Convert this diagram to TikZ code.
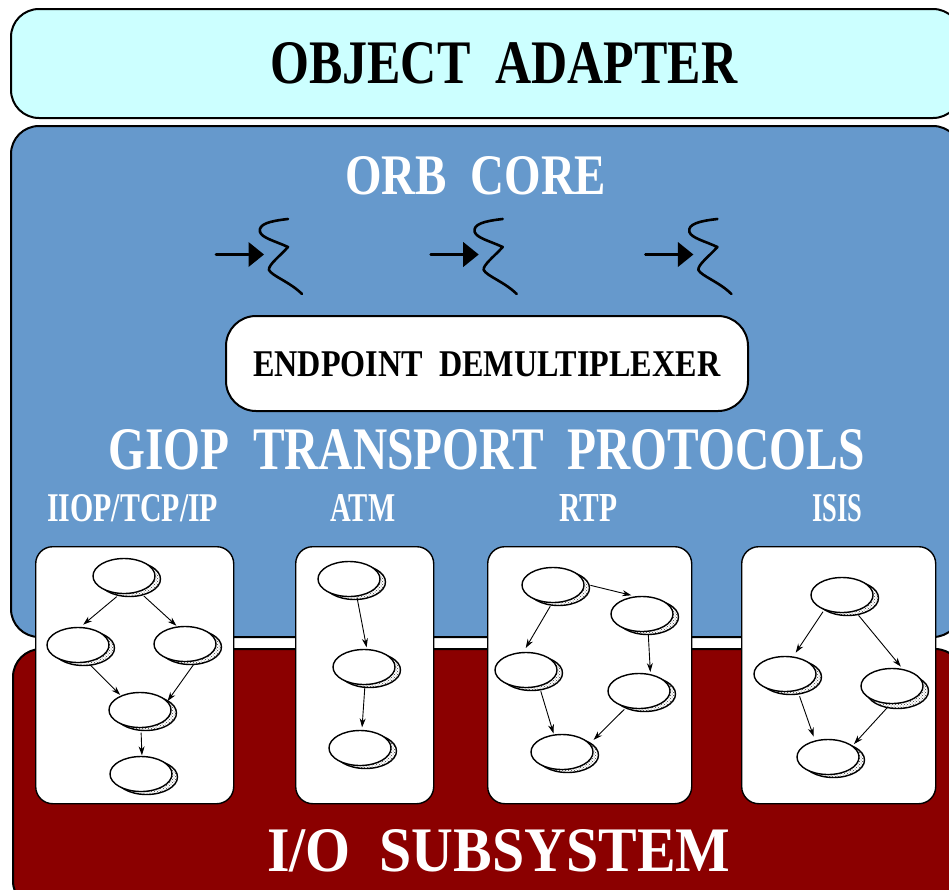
\documentclass[tikz,border=0pt]{standalone}
\usepackage{fontspec}
\setmainfont{Liberation Serif}
\usetikzlibrary{shapes.geometric,arrows.meta,patterns}
\definecolor{adaptercol}{HTML}{CCFFFF}
\definecolor{orbcol}{HTML}{6699CC}
\definecolor{iocol}{HTML}{8B0000}
\tikzset{
  layerbox/.style={draw=black,line width=2pt,rounded corners=28pt},
  panelbox/.style={draw=black,fill=white,line width=1.4pt,rounded corners=17pt},
  gfront/.style={ellipse,draw=black,fill=white,line width=1.4pt,minimum width=62pt,minimum height=35pt,inner sep=0pt},
  gback/.style={ellipse,draw=black,line width=1.4pt,minimum width=62pt,minimum height=35pt,inner sep=0pt,pattern=crosshatch dots,pattern color=black!75},
  edgearrow/.style={draw=black,line width=0.9pt,-{Stealth[length=9pt,width=6pt]}},
  titletext/.style={inner sep=0pt,anchor=base west,font=\bfseries},
  threadline/.style={draw=black,line width=2.6pt,line cap=round,line join=round},
  threadarrow/.style={draw=black,line width=2.6pt,line cap=round,-{Triangle[length=15.5pt,width=25pt,line width=0pt]}}
}
% name, x, y, shadow dx, shadow dy
\newcommand{\gnode}[5]{%
  \node[gback] at (#2+#4,#3+#5) {};
  \node[gfront] (#1) at (#2,#3) {};
}
% from, angle, gap, to, angle, gap
\newcommand{\garrow}[6]{%
  \draw[edgearrow,shorten <=#3pt,shorten >=#6pt] (#1.#2) -- (#4.#5);
}
% name, x, baseline, width, height, colour, text
\newcommand{\ttl}[7]{%
  \node[titletext,text=#6] (#1) at (#2,#3) {\resizebox{#4pt}{#5pt}{#7}};
}
\begin{document}
\begin{tikzpicture}[x=1pt,y=-1pt]
\clip (0,0) rectangle (949,889);
\fill[white] (0,0) rectangle (949,889);
% layers
\node[layerbox,fill=adaptercol,anchor=north west,minimum width=950pt,minimum height=109pt,inner sep=0pt] (adapter) at (10,8) {};
\node[layerbox,fill=iocol,anchor=north west,minimum width=950pt,minimum height=260pt,inner sep=0pt] (io) at (12,648) {};
\node[layerbox,fill=orbcol,anchor=north west,minimum width=950pt,minimum height=511pt,inner sep=0pt] (orb) at (10,125) {};
% titles
\ttl{t1}{270}{83}{467}{41}{black}{OBJECT\ \ ADAPTER}
\ttl{t2}{345}{194}{261}{38}{white}{ORB\ \ CORE}
\ttl{t3}{108}{469}{756}{40}{white}{GIOP\ \ TRANSPORT\ \ PROTOCOLS}
\ttl{t4}{47}{521}{171}{27}{white}{IIOP/TCP/IP}
\ttl{t5}{330}{521}{65}{27}{white}{ATM}
\ttl{t6}{559}{521}{58}{27}{white}{RTP}
\ttl{t7}{812}{521}{50}{27}{white}{ISIS}
\ttl{t8}{267}{871}{463}{42}{white}{I/O\ \ SUBSYSTEM}
% threads
\foreach \dx in {0,214.7,429.4}{
  \begin{scope}[shift={(\dx,0)}]
    \coordinate (tail) at (216,254.5);
    \coordinate (tip) at (264,254.5);
    \draw[threadarrow] (tail) -- (tip);
    \draw[threadline] (288,219) .. controls (270,221) and (258,224) .. (260,232)
      .. controls (262,238) and (275,241) .. (288,247)
      .. controls (280,256) and (268,265) .. (269,270)
      .. controls (272,276) and (290,282) .. (302,294);
  \end{scope}
}
% demux
\node[draw=black,fill=white,line width=2pt,rounded corners=30pt,anchor=north west,minimum width=522pt,minimum height=95pt,inner sep=0pt] (demux) at (225,315) {};
\ttl{t9}{253}{376}{467}{25}{black}{ENDPOINT\ \ DEMULTIPLEXER}
% panels
\node[panelbox,anchor=north west,minimum width=198pt,minimum height=257pt,inner sep=0pt] (p1) at (35,546) {};
\node[panelbox,anchor=north west,minimum width=138pt,minimum height=257pt,inner sep=0pt] (p2) at (295,546) {};
\node[panelbox,anchor=north west,minimum width=204pt,minimum height=257pt,inner sep=0pt] (p3) at (487,546) {};
\node[panelbox,anchor=north west,minimum width=194pt,minimum height=257pt,inner sep=0pt] (p4) at (741,546) {};
% panel 1
\gnode{aa}{124}{576}{5.5}{3}
\gnode{ab}{78}{645}{5.5}{3}
\gnode{ac}{185}{644}{5.5}{3}
\gnode{ad}{140}{710}{5.5}{3}
\gnode{ae}{141}{774}{5.5}{3}
\garrow{aa}{-103}{4}{ab}{82}{3.5}
\garrow{aa}{-46}{6}{ac}{114}{1}
\garrow{ab}{-61}{3.7}{ad}{143}{1}
\garrow{ac}{-57.5}{4}{ad}{18}{0}
\garrow{ad}{-87}{4.5}{ae}{87}{0.5}
% panel 2
\gnode{ba}{349}{579}{5.5}{3}
\gnode{bb}{364}{667}{5.5}{3}
\gnode{bc}{360}{748}{5.5}{3}
\garrow{ba}{-66}{1}{bb}{81}{1.5}
\garrow{bb}{-87}{2.5}{bc}{84}{2.5}
% panel 3
\gnode{ca}{553}{585}{5.5}{3}
\gnode{cb}{642}{614}{5.5}{3}
\gnode{cc}{526}{670}{5.5}{3}
\gnode{cd}{639}{691}{5.5}{3}
\gnode{ce}{562}{752}{5.5}{3}
\garrow{ca}{2}{6}{cb}{111}{4}
\garrow{ca}{-93}{3.5}{cc}{98}{4.5}
\garrow{cb}{-71}{3}{cd}{56}{2}
\garrow{cc}{-51}{5}{ce}{115}{1}
\garrow{cd}{-128}{2.5}{ce}{17}{5}
% panel 4
\gnode{da}{842}{595}{5.5}{3}
\gnode{db}{785}{674}{5.5}{3}
\gnode{dc}{892}{686}{5.5}{5}
\gnode{dd}{828}{757}{5.5}{3}
\garrow{da}{-140}{2}{db}{65}{4.5}
\garrow{da}{-51}{5}{dc}{58}{3}
\garrow{db}{-53}{6}{dd}{128}{4}
\garrow{dc}{-95}{3.5}{dd}{25}{2}
\end{tikzpicture}
\end{document}
